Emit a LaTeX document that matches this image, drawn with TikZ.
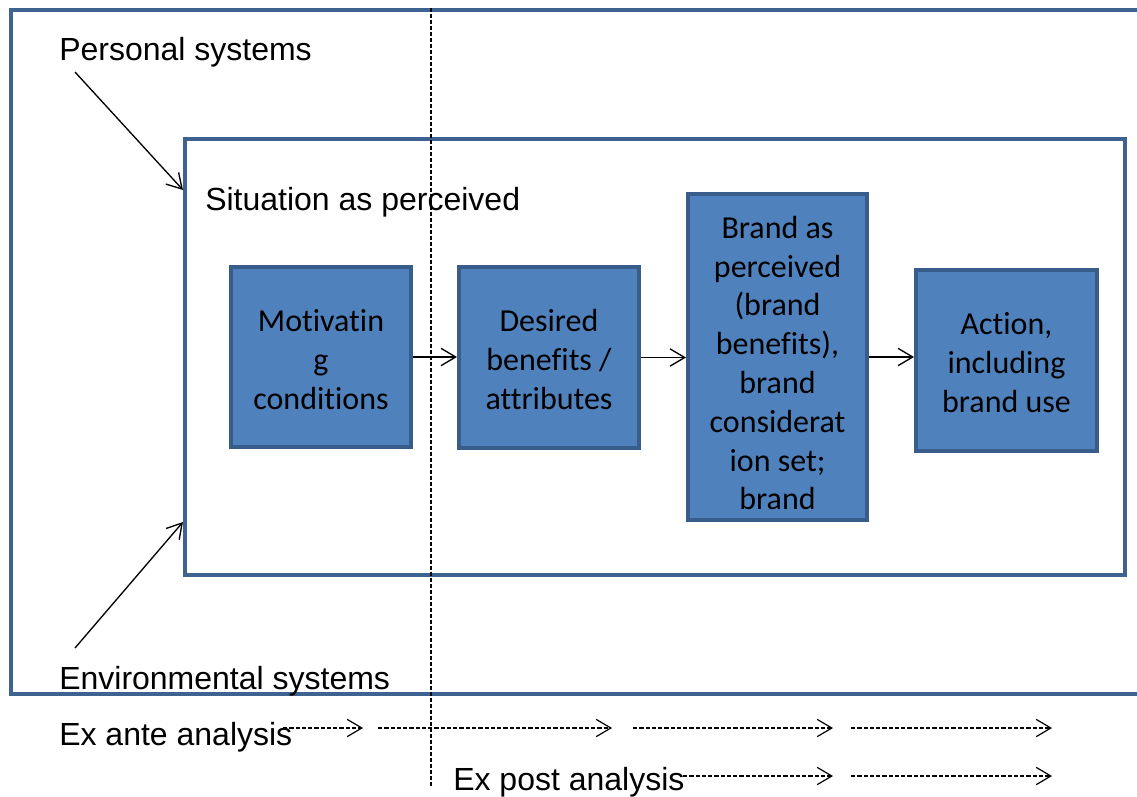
\documentclass[tikz,border=0pt]{standalone}
\usepackage{fontspec}
\setmainfont{Liberation Sans}
\newfontfamily\boxfont[Ligatures=NoCommon]{Carlito}
\usetikzlibrary{arrows.meta}
\definecolor{boxfill}{RGB}{79,129,189}
\definecolor{boxline}{RGB}{56,93,138}
\definecolor{frameline}{RGB}{61,99,145}
\begin{document}
\begin{tikzpicture}[x=0.75pt,y=-0.75pt,
 stage/.style={draw=boxline, fill=boxfill, line width=3pt, inner sep=0pt},
 stagetext/.style={inner sep=0pt, align=center, text=black,
   font=\boxfont\fontsize{24}{29.1}\selectfont},
 frame/.style={draw=frameline, line width=3pt, inner sep=0pt},
 lbl/.style={anchor=base west, inner sep=0pt, font=\fontsize{24}{28}\selectfont},
 flow/.style={-{Straight Barb[length=11pt,width=13pt]}, line width=1pt},
 dflow/.style={flow, dash pattern=on 3.2pt off 1.5pt, line width=0.9pt},
 guide/.style={dash pattern=on 3.2pt off 1.3pt, line width=0.9pt}]
\clip (0,0) rectangle (1137,796);
% outer frame
\draw[frame] (11,10) rectangle (1160,694);
% inner situation frame
\node[frame, minimum width=705pt, minimum height=327pt] (situation) at (655,357) {};
% labels
\node[lbl] (personal) at (59,60) {Personal systems};
\node[lbl] (situlbl) at (205,210) {Situation as perceived};
\node[lbl] (environ) at (59,689) {Environmental systems};
\node[lbl] (exante) at (59,745) {Ex ante analysis};
\node[lbl] (expost) at (453,790) {Ex post analysis};
% stages
\node[stage, minimum width=135pt, minimum height=135pt,
  label={[stagetext, yshift=-1.8pt]center:{Motivatin\\g\\conditions}}] (motiv) at (321,357) {};
\node[stage, minimum width=135pt, minimum height=135.75pt,
  label={[stagetext, yshift=-1.5pt]center:{Desired\\benefits /\\attributes}}] (desired) at (549,357.5) {};
\node[stage, minimum width=134.25pt, minimum height=244.5pt,
  label={[stagetext, yshift=-4.5pt]center:{Brand as\\perceived\\(brand\\benefits),\\brand\\considerat\\ion set;\\brand}}] (brand) at (777.5,357) {};
\node[stage, minimum width=135.75pt, minimum height=135.75pt,
  label={[stagetext, yshift=-1.5pt]center:{Action,\\including\\brand use}}] (action) at (1006.5,360.5) {};
% flow arrows
\draw[flow] (motiv.east) -- (motiv.east -| desired.west);
\draw[flow] (desired.east) -- (desired.east -| brand.west);
\draw[flow] (brand.east) -- (brand.east -| action.west);
% system arrows
\coordinate (pstart) at (75,72);
\coordinate (estart) at (75,648);
\draw[flow] (pstart) -- (situation.west |- 0,190);
\draw[flow] (estart) -- (situation.west |- 0,522);
% dashed vertical guide
\coordinate (gtop) at (431,8);
\coordinate (gbot) at (431,787);
\draw[guide] (gtop) -- (gbot);
% ex ante dashed arrows
\coordinate (a0) at (283,728);
\coordinate (a1) at (363,728);
\coordinate (a2) at (378,728);
\coordinate (a3) at (612,728);
\coordinate (a4) at (633,728);
\coordinate (a5) at (833,728);
\coordinate (a6) at (851,728);
\coordinate (a7) at (1052,728);
\draw[dflow] (a0) -- (a1);
\draw[dflow] (a2) -- (a3);
\draw[dflow] (a4) -- (a5);
\draw[dflow] (a6) -- (a7);
% ex post dashed arrows
\coordinate (b0) at (683,776);
\coordinate (b1) at (833,776);
\coordinate (b2) at (851,776);
\coordinate (b3) at (1052,776);
\draw[dflow] (b0) -- (b1);
\draw[dflow] (b2) -- (b3);
\end{tikzpicture}
\end{document}
